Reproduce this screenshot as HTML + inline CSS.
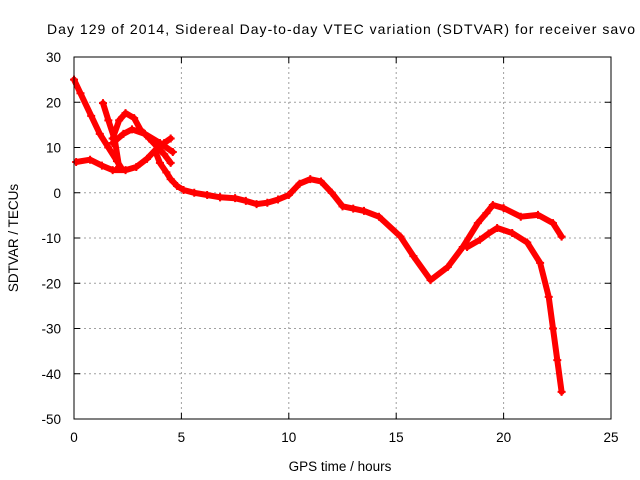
<!DOCTYPE html>
<html><head><meta charset="utf-8"><style>
body{margin:0;background:#fff}
svg{display:block;font-family:"Liberation Sans",sans-serif}
</style></head><body>
<svg id="chart" width="640" height="480">
<text x="47" y="34" font-size="14" textLength="588" lengthAdjust="spacing">Day 129 of 2014, Sidereal Day-to-day VTEC variation (SDTVAR) for receiver savo</text>
<g id="grid"></g>
<g id="ticks"></g>
<g id="series"></g>
<rect x="74" y="57" width="537" height="362" fill="none" stroke="#000" stroke-width="1"/>
<text x="340" y="471" font-size="13.5" text-anchor="middle">GPS time / hours</text>
<text transform="translate(18,238) rotate(-90)" font-size="13.5" text-anchor="middle">SDTVAR / TECUs</text>
</svg>
<script>
const xTicks=[0,5,10,15,20,25];
const yTicks=[30,20,10,0,-10,-20,-30,-40,-50];
const track1Hours=[0,0.3,0.8,1.2,1.6,2.0,2.2];
const track1Values=[25,22,17,13,10,7,5.5];
const track2Hours=[1.35,1.6,1.9,2.1];
const track2Values=[19.8,16,11.7,5.7];
const track3Hours=[1.8,2.1,2.4,2.8,3.1,3.5,3.9,4.2,4.5];
const track3Values=[12,16,17.6,16.5,13.9,12,10,8.5,6.6];
const track4Hours=[1.8,2.3,2.7,3.3,4.0,4.6];
const track4Values=[11,13,14,13,11,9];
const track5Hours=[0.1,0.75,1.3,1.8,2.4,2.9,3.4,3.9,4.2,4.5];
const track5Values=[6.8,7.3,6,5,5,5.7,7.5,10,11,12];
const track6Hours=[3.8,4.0,4.3,4.5,4.8,5.1,5.6,6.2,6.8];
const track6Values=[9,6.6,4.5,3,1.5,0.6,0,-0.5,-1];
const track7Hours=[6.8,7.5,8.0,8.5,9.0,9.5,10.0,10.5,11.0,11.5,12.0,12.5,13.0,13.5,14.2,15.2,15.8,16.6,17.4,18.1,18.8,19.2,19.5,20.0,20.8,21.6,22.3,22.7];
const track7Values=[-1,-1.2,-1.8,-2.5,-2.2,-1.5,-0.5,2,3,2.5,0,-3,-3.5,-4,-5.3,-9.7,-14,-19.3,-16.4,-12,-6.7,-4.5,-2.7,-3.4,-5.3,-4.9,-6.7,-9.7];
const track8Hours=[18.3,18.9,19.3,19.7,20.4,21.1,21.7,22.1,22.3,22.5,22.7];
const track8Values=[-12,-10.4,-9,-7.8,-8.9,-11,-15.5,-23,-30,-37,-44];
const allTracks=[[track1Hours,track1Values],[track2Hours,track2Values],[track3Hours,track3Values],[track4Hours,track4Values],[track5Hours,track5Values],[track6Hours,track6Values],[track7Hours,track7Values],[track8Hours,track8Values]];
const NS='http://www.w3.org/2000/svg';
const X0=74,X1=611,Y0=419,Y1=57;
function xs(h){return X0+(h-0)/(25-0)*(X1-X0);}
function ys(v){return Y0-(v+50)/(30+50)*(Y0-Y1);}
const grid=document.getElementById('grid'),ticks=document.getElementById('ticks'),series=document.getElementById('series');
function mk(tag,attrs,parent){const e=document.createElementNS(NS,tag);for(const k in attrs)e.setAttribute(k,attrs[k]);parent.appendChild(e);return e;}
xTicks.forEach(t=>{const x=xs(t);
 if(t>0&&t<25){const g=mk('line',{x1:x,x2:x,y1:Y1,y2:Y0,stroke:'#a0a0a0','stroke-dasharray':'2,3'},grid);
 
 }
 mk('line',{x1:x,x2:x,y1:Y0,y2:Y0-6,stroke:'#000'},ticks);
 mk('line',{x1:x,x2:x,y1:Y1,y2:Y1+6,stroke:'#000'},ticks);
 const l=mk('text',{x:x,y:Y0+23,'font-size':'13.5','text-anchor':'middle'},ticks);l.textContent=t;
 
 
});
yTicks.forEach(t=>{const y=ys(t);
 if(t>-50&&t<30){const g=mk('line',{x1:X0,x2:X1,y1:y,y2:y,stroke:'#a0a0a0','stroke-dasharray':'2,3'},grid);
 
 }
 mk('line',{x1:X0,x2:X0+6,y1:y,y2:y,stroke:'#000'},ticks);
 mk('line',{x1:X1,x2:X1-6,y1:y,y2:y,stroke:'#000'},ticks);
 const l=mk('text',{x:X0-13,y:y+5,'font-size':'13.5','text-anchor':'end'},ticks);l.textContent=t;
 
 
});
allTracks.forEach((tr,i)=>{const [hs,vs]=tr;
 const pts=hs.map((h,j)=>xs(h).toFixed(1)+','+ys(vs[j]).toFixed(1)).join(' ');
 const p=mk('polyline',{points:pts,fill:'none',stroke:'#ff0000','stroke-width':'6','stroke-linejoin':'round','stroke-linecap':'round'},series);
 
 
 hs.forEach((h,j)=>{const x=xs(h),y=ys(vs[j]);
  const m=mk('path',{d:`M${x-4},${y}H${x+4}M${x},${y-4}V${y+4}`,stroke:'#ff0000','stroke-width':'2'},series);
  
  
 });
});
</script>
</body></html>
